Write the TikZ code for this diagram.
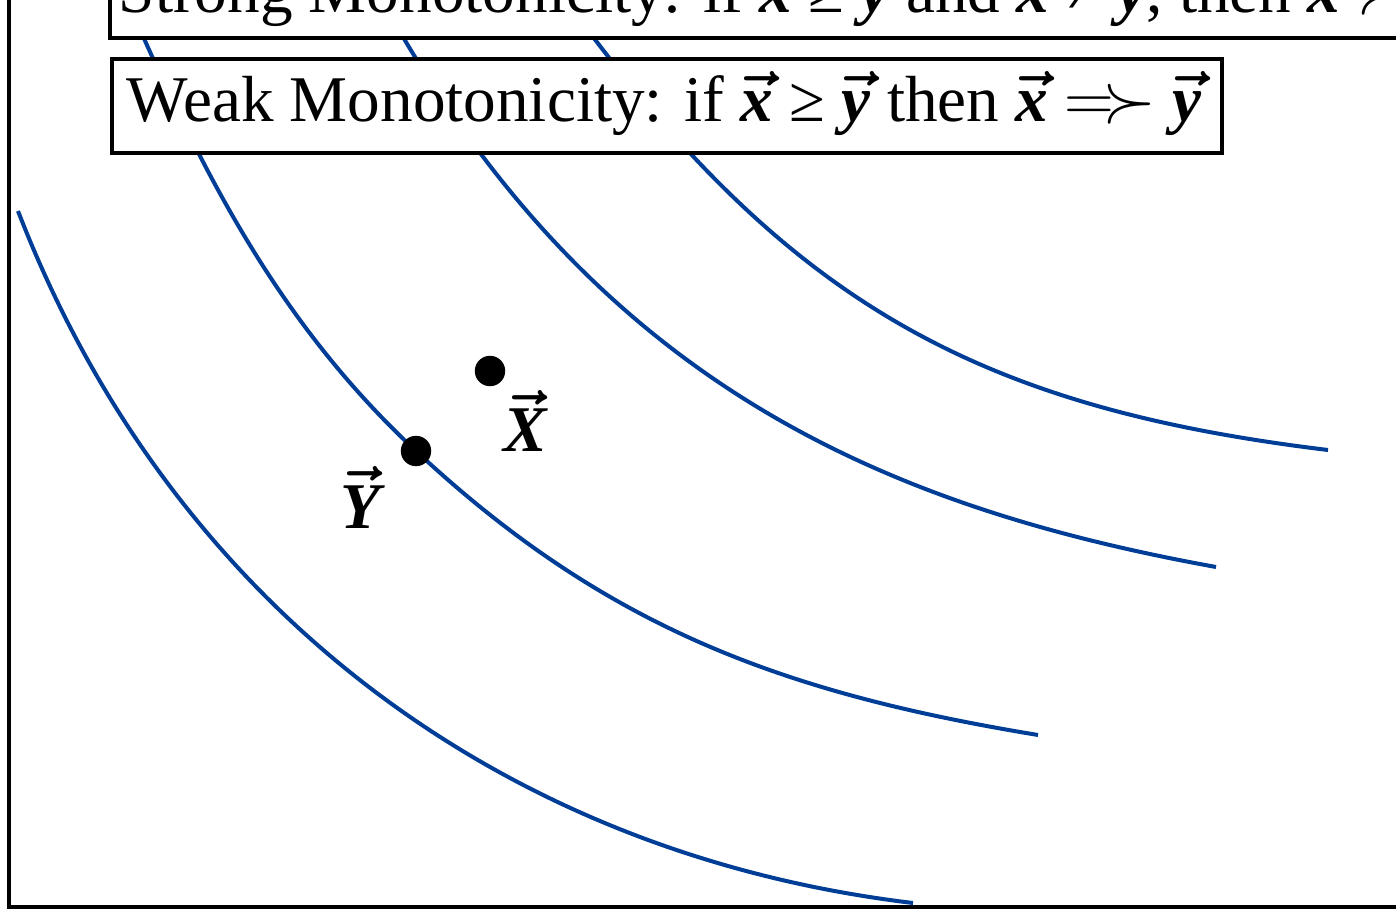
\documentclass[tikz,border=0pt]{standalone}
\usepackage{bm}
\usepackage{fontspec}
\setmainfont{Liberation Serif}
\newcommand\vv[1]{\ensuremath{\bm{\vec{\mbox{\bfseries\itshape #1}}}}}
\newcommand\wsucc{\ensuremath{=\mathrel{\mkern-3mu}\succ}}
\definecolor{curveblue}{RGB}{0,61,150}
\begin{document}
\begin{tikzpicture}[x=0.25pt,y=-0.25pt,
  curve/.style={draw=curveblue,line width=1pt},
  axis/.style={draw=black,line width=1pt},
  box/.style={draw=black,fill=white,line width=1pt,inner sep=0pt,rectangle},
  lbl/.style={inner sep=0pt,font=\fontsize{16.3}{19}\selectfont},
  dot/.style={circle,fill=black,inner sep=0pt,minimum size=7.6pt}]
\useasboundingbox (0,0) rectangle (1396,910);
\clip (0,0) rectangle (1396,910);
% axes
\coordinate (top) at (9,-5);
\coordinate (orig) at (9,907);
\coordinate (right) at (1400,907);
\draw[axis] (top) -- (orig) -- (right);
% indifference curves
\draw[curve] (18,211) .. controls (169,602) and (497,853) .. (913,903);
\draw[curve] (138,25) .. controls (210,188) and (286,330) .. (416,451)
                     .. controls (606,628) and (783,693) .. (1038,735);
\draw[curve] (396,25) .. controls (606,389) and (891,508) .. (1216,567);
\draw[curve] (584,25) .. controls (794,305) and (981,408) .. (1328,450);
% points
\node[dot] (X) at (490,371) {};
\node[dot] (Y) at (416,451) {};
\node[lbl,anchor=base] (Xl) at (525,452) {\vv{X}};
\node[lbl,anchor=base] (Yl) at (360,528) {\vv{Y}};
% boxes
\node[box,anchor=south west,minimum width=350pt,minimum height=20pt] (strongbox) at (108,40) {};
\node[lbl,anchor=base west] (strong) at (118,12) {Strong Monotonicity: if \vv{x} ≥ \vv{y} and \vv{x} ≠ \vv{y}, then \vv{x} $\succ$ \vv{y}};
\node[box,anchor=north west,minimum width=277.5pt,minimum height=23.5pt] (weakbox) at (110,57) {};
\node[lbl,anchor=base west] (weak) at (126,122) {Weak Monotonicity: if \vv{x} ≥ \vv{y} then \vv{x} \wsucc\ \vv{y}};
\end{tikzpicture}
\end{document}
